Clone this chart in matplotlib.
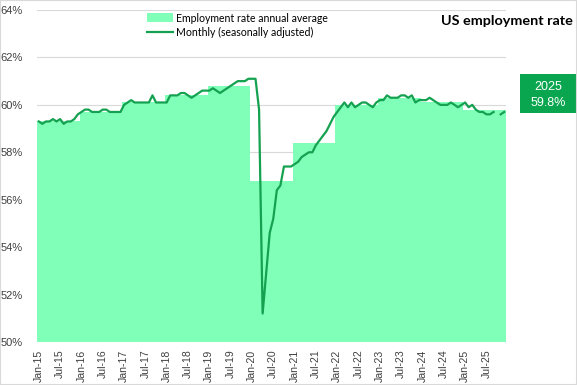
import matplotlib
matplotlib.use('Agg')
import matplotlib.pyplot as plt
from matplotlib.patches import Rectangle
import numpy as np
import pandas as pd

years = list(range(2015, 2026))
annual_avg = [59.3, 59.7, 60.1, 60.4, 60.8, 56.8, 58.4, 60.0, 60.3, 60.1, 59.8]

m2015 = [59.3, 59.2, 59.3, 59.3, 59.4, 59.3, 59.4, 59.2, 59.3, 59.3, 59.4, 59.6]
m2016 = [59.7, 59.8, 59.8, 59.7, 59.7, 59.7, 59.8, 59.8, 59.7, 59.7, 59.7, 59.7]
m2017 = [60.0, 60.1, 60.2, 60.1, 60.1, 60.1, 60.1, 60.1, 60.4, 60.1, 60.1, 60.1]
m2018 = [60.1, 60.4, 60.4, 60.4, 60.5, 60.5, 60.4, 60.3, 60.4, 60.5, 60.6, 60.6]
m2019 = [60.6, 60.7, 60.6, 60.5, 60.6, 60.7, 60.8, 60.9, 61.0, 61.0, 61.0, 61.1]
m2020 = [61.1, 61.1, 59.8, 51.2, 52.9, 54.6, 55.2, 56.4, 56.6, 57.4, 57.4, 57.4]
m2021 = [57.5, 57.6, 57.8, 57.9, 58.0, 58.0, 58.3, 58.5, 58.7, 58.9, 59.2, 59.5]
m2022 = [59.7, 59.9, 60.1, 59.9, 60.1, 59.9, 60.0, 60.1, 60.1, 60.0, 59.9, 60.1]
m2023 = [60.2, 60.2, 60.4, 60.3, 60.3, 60.3, 60.4, 60.4, 60.3, 60.4, 60.1, 60.2]
m2024 = [60.2, 60.2, 60.3, 60.2, 60.1, 60.0, 60.0, 60.0, 60.1, 60.0, 59.9, 60.0]
m2025 = [60.1, 59.9, 60.0, 59.8, 59.7, 59.7, 59.6, 59.6, 59.7, np.nan, 59.6, 59.7]

monthly = np.array(m2015 + m2016 + m2017 + m2018 + m2019 + m2020 +
                   m2021 + m2022 + m2023 + m2024 + m2025)
months = pd.date_range('2015-01-01', periods=len(monthly), freq='MS')

area_color = '#80FFB9'
line_color = '#14A150'
box_color = '#0AA64F'
grid_color = '#D9D9D9'

fig = plt.figure(figsize=(5.77, 3.85), dpi=100)
ax = fig.add_axes([37 / 577, 43 / 385, 469 / 577, 332 / 385])

x = np.arange(len(monthly))
edges = np.arange(0, 12 * len(annual_avg) + 1, 12) - 0.5
ax.stairs(annual_avg, edges, baseline=50, fill=True, color=area_color,
          lw=0, label='Employment rate annual average', zorder=2)
ax.plot(x, monthly, color=line_color, lw=1.6, label='Monthly (seasonally adjusted)',
        zorder=3)

ax.set_xlim(-0.5, len(monthly) - 0.5)
ax.set_ylim(50, 64)
ax.set_yticks(np.arange(50, 65, 2))
ax.set_yticklabels([f'{v}%' for v in range(50, 65, 2)],
                   family='Liberation Sans', fontsize=8, color='#404040')
ticks = x[::6]
ax.set_xticks(ticks)
ax.set_xticklabels([months[i].strftime('%b-%y') for i in ticks], rotation=90,
                   family='Liberation Sans', fontsize=7.6, color='#404040')
ax.tick_params(axis='both', length=0)
ax.tick_params(axis='y', pad=10)
ax.tick_params(axis='x', pad=5.5)
ax.grid(axis='y', color=grid_color, lw=0.8)
ax.set_axisbelow(True)
for s in ax.spines.values():
    s.set_visible(False)

fig.legend(loc='upper left', bbox_to_anchor=(147 / 577, 1 - 12.5 / 385),
           frameon=False, prop={'family': 'Lato', 'size': 7.6},
           handlelength=2.5, handleheight=0.9, handletextpad=0.25,
           labelspacing=0.35, borderpad=0, borderaxespad=0)

fig.text(507 / 577, 1 - 21 / 385, 'US employment rate', ha='center', va='center',
         family='Lato', weight='bold', fontsize=10.4, color='black')

fig.patches.append(Rectangle((520 / 577, 1 - 112.7 / 385), 57 / 577, 38.7 / 385,
                             transform=fig.transFigure, color=box_color, lw=0))
fig.text(548 / 577, 1 - 87 / 385, f'{years[-1]}', ha='center', va='center',
         family='Liberation Sans', fontsize=9, color='white')
fig.text(548 / 577, 1 - 103 / 385, f'{annual_avg[-1]}%', ha='center', va='center',
         family='Liberation Sans', fontsize=9, color='white')

fig.patches.append(Rectangle((0, 0), 1, 1, transform=fig.transFigure, fill=False,
                             edgecolor=grid_color, lw=1.5))

fig.savefig('out.png', dpi=100)
